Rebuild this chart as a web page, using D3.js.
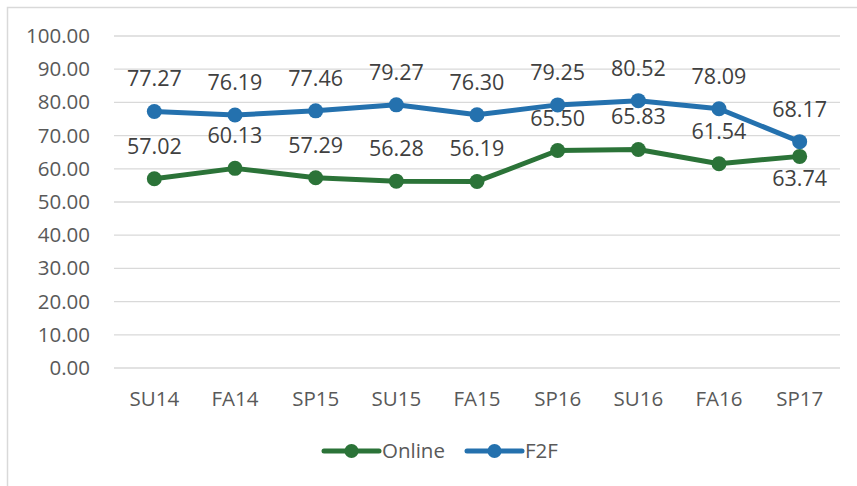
<!DOCTYPE html>
<meta charset="utf-8">
<style>
body { margin: 0; background: #fff; }
text { font-family: "Open Sans", "Liberation Sans", sans-serif; }
</style>
<script src="https://d3js.org/d3.v7.min.js"></script>
<div id="my_dataviz"></div>
<script>

// data
var terms = ["SU14", "FA14", "SP15", "SU15", "FA15", "SP16", "SU16", "FA16", "SP17"];
var online = [57.02, 60.13, 57.29, 56.28, 56.19, 65.50, 65.83, 61.54, 63.74];
var f2f = [77.27, 76.19, 77.46, 79.27, 76.30, 79.25, 80.52, 78.09, 68.17];
var yTicks = [0, 10, 20, 30, 40, 50, 60, 70, 80, 90, 100];

var W = 857, H = 486;
var svg = d3.select("#my_dataviz")
  .append("svg")
    .attr("width", W)
    .attr("height", H);

// chart area border (only top/left visible in the crop)
svg.append("rect")
  .attr("x", 7.5).attr("y", 7.5)
  .attr("width", W + 20).attr("height", H + 20)
  .attr("fill", "none")
  .attr("stroke", "#d9d9d9")
  .attr("stroke-width", 1.5);

var x = d3.scaleBand()
  .domain(terms)
  .range([114, 840]);

var y = d3.scaleLinear()
  .domain([0, 100])
  .range([368, 36]);

// gridlines
svg.append("g")
  .selectAll("line")
  .data(yTicks)
  .enter()
  .append("line")
    .attr("x1", 114).attr("x2", 840)
    .attr("y1", function(d) { return y(d); })
    .attr("y2", function(d) { return y(d); })
    .attr("stroke", "#d9d9d9")
    .attr("stroke-width", 1.3);

// y axis labels
var yAxis = svg.append("g")
  .attr("transform", "translate(90,0)")
  .call(d3.axisLeft(y).tickValues(yTicks).tickSize(0).tickPadding(0)
    .tickFormat(function(d) { return d3.format(".2f")(d); }));
yAxis.select(".domain").remove();
yAxis.selectAll("text")
  .attr("fill", "#595959")
  .style("font-size", "20.5px");

// x axis labels
var xAxis = svg.append("g")
  .attr("transform", "translate(0,368)")
  .call(d3.axisBottom(x).tickSize(0).tickPadding(23));
xAxis.select(".domain").remove();
xAxis.selectAll("text")
  .attr("fill", "#595959")
  .style("font-size", "20.5px");

function cx(d, i) { return x(terms[i]) + x.bandwidth() / 2; }

var series = [
  {name: "Online", values: online, color: "#2b7338"},
  {name: "F2F", values: f2f, color: "#2471ae"}
];

var line = d3.line()
  .x(function(d, i) { return cx(d, i); })
  .y(function(d) { return y(d); });

series.forEach(function(s) {
  svg.append("path")
    .datum(s.values)
    .attr("d", line)
    .attr("fill", "none")
    .attr("stroke", s.color)
    .attr("stroke-width", 5)
    .attr("stroke-linejoin", "round");

  svg.append("g")
    .selectAll("circle")
    .data(s.values)
    .enter()
    .append("circle")
      .attr("cx", cx)
      .attr("cy", function(d) { return y(d); })
      .attr("r", 7.5)
      .attr("fill", s.color);
});

// data labels
series.forEach(function(s) {
  svg.append("g")
    .selectAll("text")
    .data(s.values)
    .enter()
    .append("text")
      .attr("x", cx)
      .attr("y", function(d, i) {
        // last online label sits below its point
        if (s.name === "Online" && i === terms.length - 1) return y(d) + 30;
        return y(d) - 25;
      })
      .attr("text-anchor", "middle")
      .attr("fill", "#404040")
      .style("font-size", "21.5px")
      .text(function(d) { return d3.format(".2f")(d); });
});

// legend
var legend = svg.append("g");
var legendX = [324, 467];
series.forEach(function(s, i) {
  var g = legend.append("g").attr("transform", "translate(" + legendX[i] + ",451)");
  g.append("line")
    .attr("x1", 0).attr("x2", 55)
    .attr("stroke", s.color)
    .attr("stroke-width", 5)
    .attr("stroke-linecap", "round");
  g.append("circle")
    .attr("cx", 27.5).attr("r", 7)
    .attr("fill", s.color);
  g.append("text")
    .attr("x", 58)
    .attr("y", 0)
    .attr("dy", "0.35em")
    .attr("fill", "#595959")
    .style("font-size", "20.5px")
    .text(s.name);
});

</script>
